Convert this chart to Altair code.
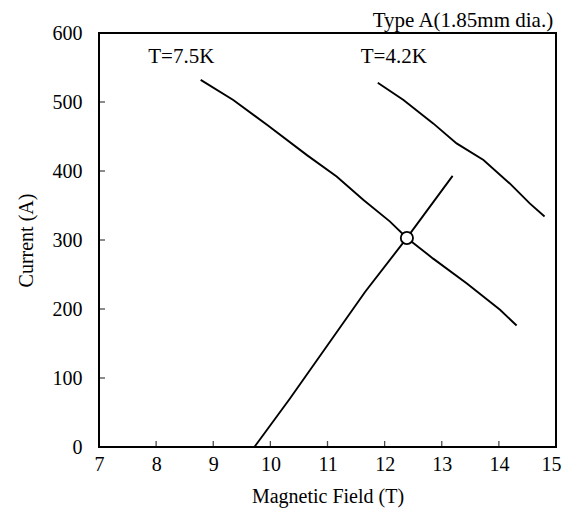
import altair as alt
import pandas as pd

# T = 7.5K critical current curve
field_75 = [8.78, 9.35, 9.94, 10.64, 11.16, 11.63, 12.09, 12.39, 12.85, 13.44, 14.02, 14.31]
current_75 = [532, 503, 467, 423, 392, 358, 327, 303, 273, 237, 199, 176]

# T = 4.2K critical current curve
field_42 = [11.88, 12.33, 12.85, 13.26, 13.73, 14.19, 14.54, 14.80]
current_42 = [528, 503, 469, 440, 416, 382, 353, 334]

# load line
field_load = [9.72, 10.34, 11.66, 12.39, 13.19]
current_load = [0, 70, 225, 303, 393]

# operating point
op_field = [12.39]
op_current = [303]

# annotations
label_text = ["T=7.5K", "T=4.2K"]
label_field = [8.44, 12.16]
label_current = [565, 565]

title_text = ["Type A(1.85mm dia.)"]
title_field = [14.95]
title_current = [617]

x_ticks = [8, 9, 10, 11, 12, 13, 14]
y_ticks = [100, 200, 300, 400, 500]

FONT = "Liberation Serif"

rows = []
for name, xs, ys in [("7.5K", field_75, current_75), ("4.2K", field_42, current_42), ("load", field_load, current_load)]:
    for i, (a, b) in enumerate(zip(xs, ys)):
        rows.append({"series": name, "idx": i, "field": a, "current": b})
lines_df = pd.DataFrame(rows)

x_scale = alt.Scale(domain=[7, 15], nice=False, zero=False)
y_scale = alt.Scale(domain=[0, 600], nice=False)

x_axis = alt.Axis(values=list(range(7, 16)), format="d", title="Magnetic Field (T)", ticks=False, domain=False,
                  grid=False, labelFontSize=20, titleFontSize=20, labelFont=FONT, titleFont=FONT,
                  titleFontWeight="normal", labelColor="black", titleColor="black",
                  labelPadding=7, titlePadding=12, labelFlush=True, labelFlushOffset=5)
y_axis = alt.Axis(values=list(range(0, 601, 100)), format="d", title="Current (A)", ticks=False, domain=False,
                  grid=False, labelFontSize=20, titleFontSize=20, labelFont=FONT, titleFont=FONT,
                  titleFontWeight="normal", labelColor="black", titleColor="black",
                  labelPadding=17, titlePadding=16, labelFlush=False)

lines = alt.Chart(lines_df).mark_line(color="black", strokeWidth=1.9).encode(
    x=alt.X("field:Q", scale=x_scale, axis=x_axis),
    y=alt.Y("current:Q", scale=y_scale, axis=y_axis),
    detail="series:N",
    order="idx:Q",
)

point = alt.Chart(pd.DataFrame({"field": op_field, "current": op_current})).mark_point(
    shape="circle", size=150, filled=True, fill="white", stroke="black", strokeWidth=1.8, opacity=1
).encode(x=alt.X("field:Q", scale=x_scale), y=alt.Y("current:Q", scale=y_scale))

xt = alt.Chart(pd.DataFrame({"field": x_ticks, "current": [0] * len(x_ticks)})).mark_tick(
    orient="vertical", size=6, thickness=1.3, yOffset=-3, color="black"
).encode(x=alt.X("field:Q", scale=x_scale), y=alt.Y("current:Q", scale=y_scale))

yt = alt.Chart(pd.DataFrame({"field": [7] * len(y_ticks), "current": y_ticks})).mark_tick(
    orient="horizontal", size=6, thickness=1.3, xOffset=3, color="black"
).encode(x=alt.X("field:Q", scale=x_scale), y=alt.Y("current:Q", scale=y_scale))

labels = alt.Chart(pd.DataFrame({"field": label_field, "current": label_current, "t": label_text})).mark_text(
    font=FONT, fontSize=21, color="black"
).encode(x=alt.X("field:Q", scale=x_scale), y=alt.Y("current:Q", scale=y_scale), text="t:N")

title = alt.Chart(pd.DataFrame({"field": title_field, "current": title_current, "t": title_text})).mark_text(
    font=FONT, fontSize=21, color="black", align="right"
).encode(x=alt.X("field:Q", scale=x_scale), y=alt.Y("current:Q", scale=y_scale), text="t:N")

chart = alt.layer(lines, xt, yt, point, labels, title).properties(
    width=457, height=414,
    autosize=alt.AutoSizeParams(type="none"),
    padding={"left": 91, "top": 25, "right": 6, "bottom": 74},
).configure(background="white").configure_view(stroke="black", strokeWidth=2)

chart.save("out.html", embed_options={"renderer": "svg", "actions": False})
